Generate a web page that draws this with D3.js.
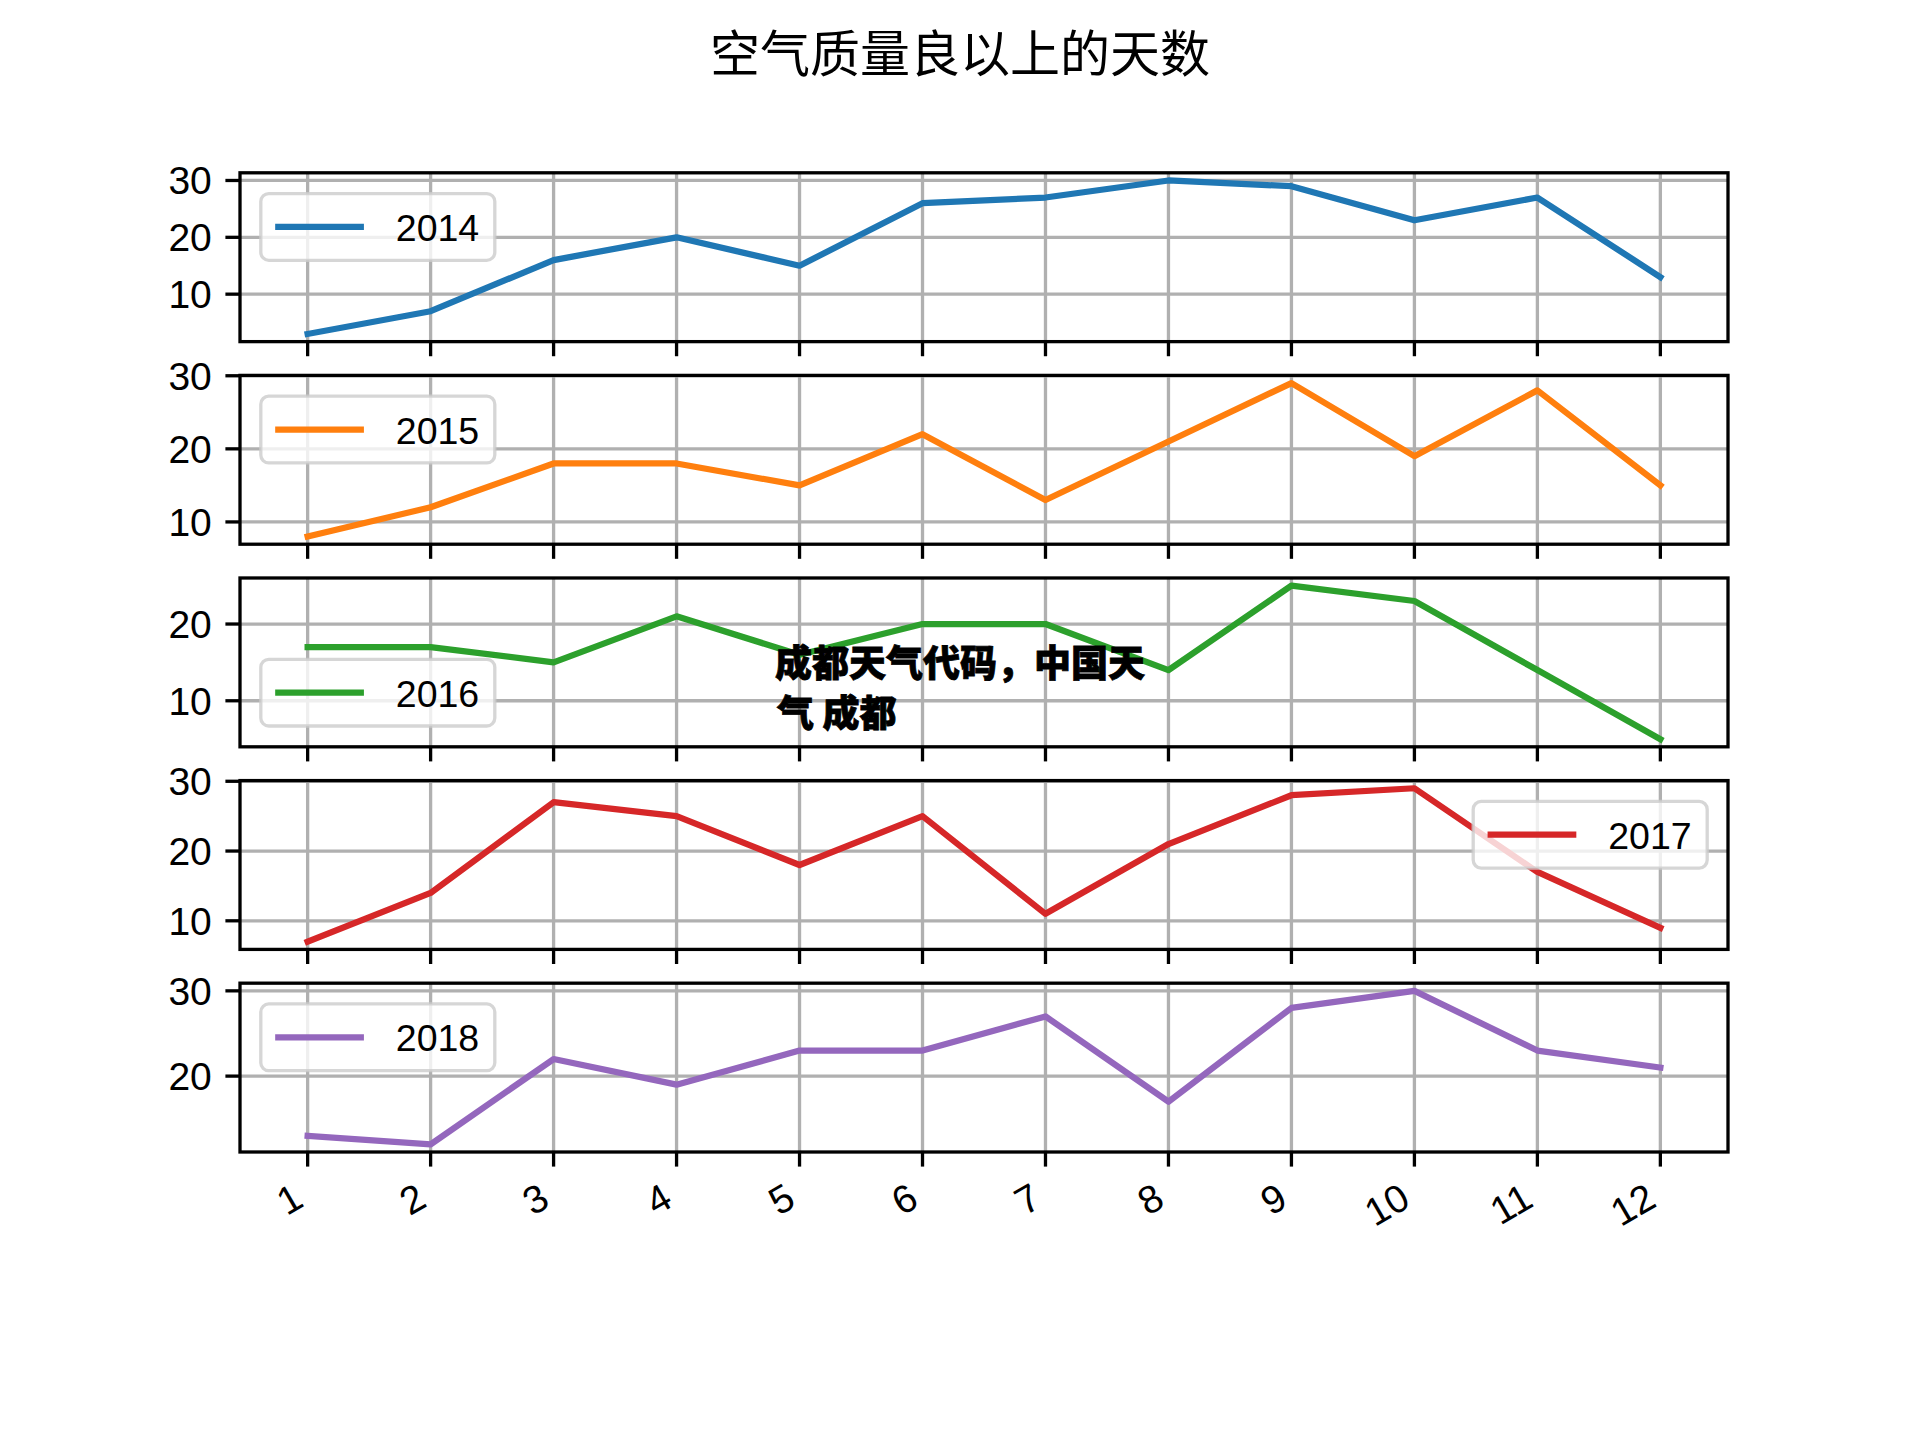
<!DOCTYPE html>
<html>
<head>
<meta charset="utf-8">
<script src="https://cdn.jsdelivr.net/npm/d3@7"></script>
<style>
  html, body { margin: 0; padding: 0; background: #ffffff; }
  svg { display: block; }
</style>
</head>
<body>
<script>
// ---------------- data ----------------
const title = "空气质量良以上的天数";
const months = [1, 2, 3, 4, 5, 6, 7, 8, 9, 10, 11, 12];
const xTickLabels = ["1", "2", "3", "4", "5", "6", "7", "8", "9", "10", "11", "12"];
const seriesNames = ["2014", "2015", "2016", "2017", "2018"];
const seriesColors = ["#1f77b4", "#ff7f0e", "#2ca02c", "#d62728", "#9467bd"];
const values2014 = [3, 7, 16, 20, 15, 26, 27, 30, 29, 23, 27, 13];
const values2015 = [8, 12, 18, 18, 15, 22, 13, 21, 29, 19, 28, 15];
const values2016 = [17, 17, 15, 21, 16, 20, 20, 14, 25, 23, 14, 5];
const values2017 = [7, 14, 27, 25, 18, 25, 11, 21, 28, 29, 17, 9];
const values2018 = [13, 12, 22, 19, 23, 23, 27, 17, 28, 30, 23, 21];
const yTicks2014 = [10, 20, 30];
const yTicks2015 = [10, 20, 30];
const yTicks2016 = [10, 20];
const yTicks2017 = [10, 20, 30];
const yTicks2018 = [20, 30];
const legendLocs = ["upper left", "upper left", "lower left", "upper right", "upper left"];
const watermarkLines = ["成都天气代码，中国天", "气 成都"];

const allValues = [values2014, values2015, values2016, values2017, values2018];
const allTicks = [yTicks2014, yTicks2015, yTicks2016, yTicks2017, yTicks2018];

// ---------------- layout ----------------
const W = 1920, H = 1440;
const left = 240, right = 1728;
const figTop = 172.8, figBottom = 1152;
const nP = 5, hspace = 0.2;
const panelH = (figBottom - figTop) / (nP + (nP - 1) * hspace);
const gap = panelH * hspace;
const fontFam = "'Liberation Sans', Arial, sans-serif";
const fs = 39;
const tickLen = 14.6, tickW = 3.3, spineW = 3.3, gridW = 3.3, lineW = 6.25;
const pad = 14.6;

const svg = d3.select("body").append("svg")
  .attr("width", W).attr("height", H)
  .attr("viewBox", `0 0 ${W} ${H}`);

svg.append("rect").attr("width", W).attr("height", H).attr("fill", "#fff");

// title
svg.append("text")
  .attr("x", W / 2).attr("y", 72)
  .attr("text-anchor", "middle")
  .attr("font-family", "'Noto Sans CJK SC', sans-serif")
  .attr("font-size", 50)
  .attr("fill", "#000")
  .text(title);

const x = d3.scaleLinear().domain([0.45, 12.55]).range([left, right]);

allValues.forEach((vals, i) => {
  const top = figTop + i * (panelH + gap);
  const bottom = top + panelH;
  const mn = d3.min(vals), mx = d3.max(vals);
  const m = (mx - mn) * 0.05;
  const y = d3.scaleLinear().domain([mn - m, mx + m]).range([bottom, top]);

  const g = svg.append("g");

  const clipId = "clip" + i;
  svg.append("clipPath").attr("id", clipId)
    .append("rect").attr("x", left).attr("y", top)
    .attr("width", right - left).attr("height", panelH);

  // grid
  const grid = g.append("g").attr("clip-path", `url(#${clipId})`);
  grid.selectAll("line.vg").data(months).enter().append("line")
    .attr("x1", d => x(d)).attr("x2", d => x(d))
    .attr("y1", top).attr("y2", bottom)
    .attr("stroke", "#b0b0b0").attr("stroke-width", gridW);
  grid.selectAll("line.hg").data(allTicks[i]).enter().append("line")
    .attr("x1", left).attr("x2", right)
    .attr("y1", d => y(d)).attr("y2", d => y(d))
    .attr("stroke", "#b0b0b0").attr("stroke-width", gridW);

  // series line
  const line = d3.line().x((d, k) => x(months[k])).y(d => y(d));
  g.append("path").datum(vals)
    .attr("clip-path", `url(#${clipId})`)
    .attr("d", line)
    .attr("fill", "none")
    .attr("stroke", seriesColors[i])
    .attr("stroke-width", lineW)
    .attr("stroke-linejoin", "round")
    .attr("stroke-linecap", "square");

  // y axis ticks & labels
  allTicks[i].forEach(t => {
    g.append("line")
      .attr("x1", left - tickLen).attr("x2", left)
      .attr("y1", y(t)).attr("y2", y(t))
      .attr("stroke", "#000").attr("stroke-width", tickW);
    g.append("text")
      .attr("x", left - tickLen - pad + 1).attr("y", y(t) + 14)
      .attr("text-anchor", "end")
      .attr("font-family", fontFam).attr("font-size", fs)
      .attr("fill", "#000")
      .text(t);
  });

  // x ticks
  months.forEach(mo => {
    g.append("line")
      .attr("x1", x(mo)).attr("x2", x(mo))
      .attr("y1", bottom).attr("y2", bottom + tickLen)
      .attr("stroke", "#000").attr("stroke-width", tickW);
  });

  // spines
  g.append("rect")
    .attr("x", left).attr("y", top)
    .attr("width", right - left).attr("height", panelH)
    .attr("fill", "none").attr("stroke", "#000").attr("stroke-width", spineW);

  // legend
  const lw = 234, lh = 66.7, bap = 20.8;
  const loc = legendLocs[i];
  const lx = loc.includes("right") ? right - bap - lw : left + bap;
  const ly = loc.includes("upper") ? top + bap : bottom - bap - lh;
  const lg = g.append("g");
  lg.append("rect")
    .attr("x", lx).attr("y", ly).attr("width", lw).attr("height", lh)
    .attr("rx", 8).attr("ry", 8)
    .attr("fill", "#fff").attr("fill-opacity", 0.8)
    .attr("stroke", "#cccccc").attr("stroke-opacity", 0.8)
    .attr("stroke-width", 3.3);
  lg.append("line")
    .attr("x1", lx + 17.5).attr("x2", lx + 100)
    .attr("y1", ly + lh / 2).attr("y2", ly + lh / 2)
    .attr("stroke", seriesColors[i]).attr("stroke-width", lineW)
    .attr("stroke-linecap", "square");
  lg.append("text")
    .attr("x", lx + 135).attr("y", ly + lh / 2 + 14)
    .attr("font-family", fontFam).attr("font-size", 37.5)
    .attr("fill", "#000")
    .text(seriesNames[i]);

  // x tick labels only on last panel
  if (i === nP - 1) {
    months.forEach((mo, k) => {
      const ax = x(mo) - 16, ay = bottom + tickLen + pad;
      g.append("text")
        .attr("transform", `translate(${ax},${ay}) rotate(-30)`)
        .attr("text-anchor", "end")
        .attr("dominant-baseline", "hanging")
        .attr("font-family", fontFam).attr("font-size", fs)
        .attr("fill", "#000")
        .text(xTickLabels[k]);
    });
  }
});

// watermark overlay text
const wm = svg.append("text")
  .attr("font-family", "'Noto Sans CJK SC', sans-serif")
  .attr("font-weight", 900)
  .attr("font-size", 37)
  .attr("fill", "#000")
  .attr("stroke", "#000")
  .attr("stroke-width", 0.8);
wm.append("tspan").attr("x", 775).attr("y", 677).text(watermarkLines[0]);
wm.append("tspan").attr("x", 777).attr("y", 727).text(watermarkLines[1]);
</script>
</body>
</html>
